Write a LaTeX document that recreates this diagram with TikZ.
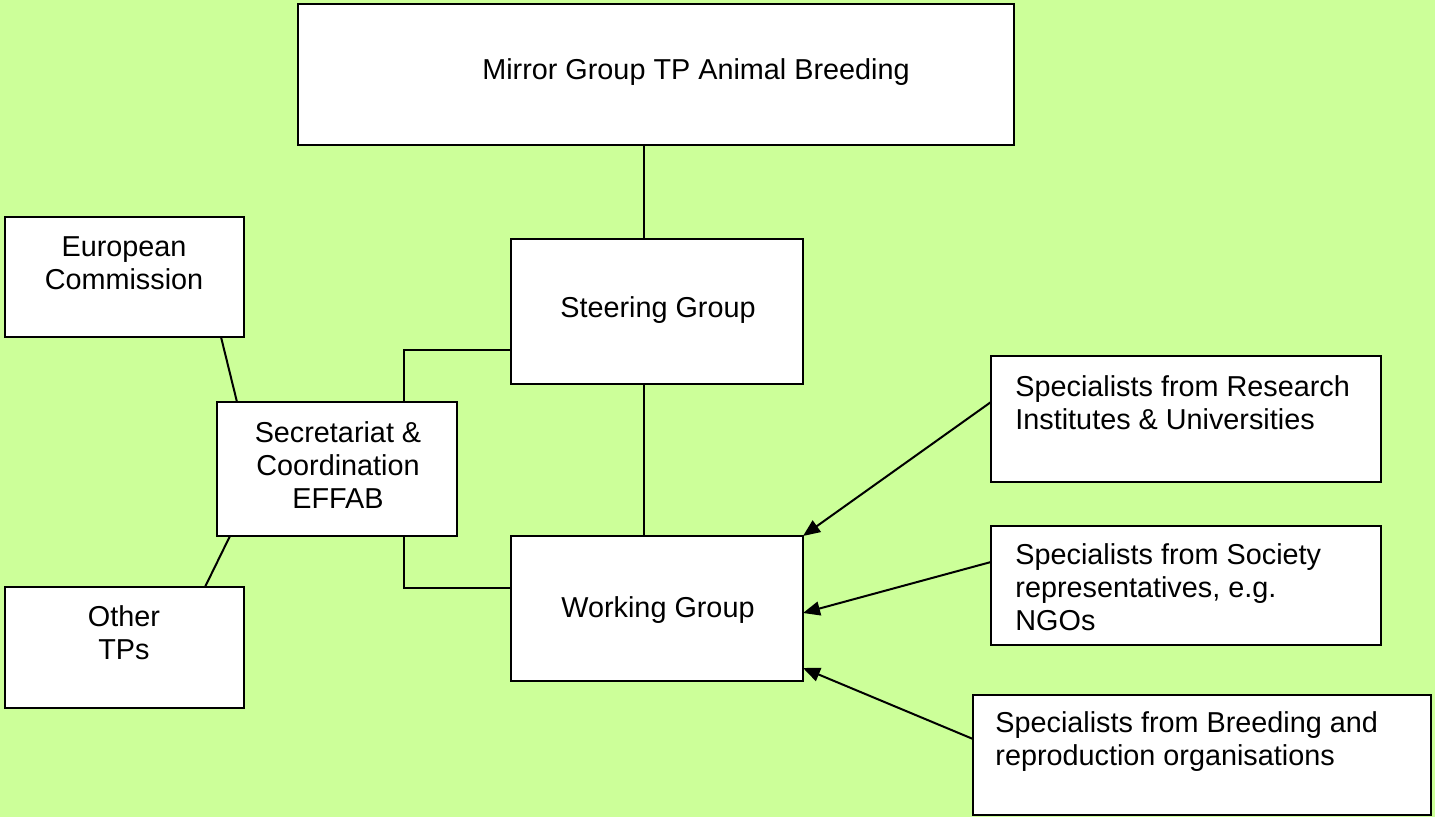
\documentclass[tikz,border=0pt]{standalone}
\usepackage{fontspec}
\setmainfont{Liberation Sans}
\usetikzlibrary{calc,arrows.meta}
\definecolor{bgGreen}{HTML}{CCFF99}

\begin{document}
\begin{tikzpicture}[x=0.5pt, y=-0.5pt,
    box/.style={draw=black, fill=white, line width=1.1pt, inner sep=0pt, outer sep=0pt, anchor=north west},
    txt/.style={inner sep=0pt, font=\fontsize{14.4}{16.5}\selectfont},
    link/.style={line width=1pt, black},
    feed/.style={line width=1pt, black, -{Triangle[length=8.5pt, width=7pt]}}]

    % Background
    \fill[bgGreen] (0,0) rectangle (1435,817);
    \useasboundingbox (0,0) rectangle (1435,817);

    % Boxes
    \node[box, minimum width=358pt, minimum height=70.5pt] (mirror) at (298,4) {};
    \node[box, minimum width=146pt, minimum height=72.5pt] (steer) at (511,239) {};
    \node[box, minimum width=146pt, minimum height=72.5pt] (work) at (511,536) {};
    \node[box, minimum width=119.5pt, minimum height=60pt] (ec) at (5,217) {};
    \node[box, minimum width=120pt, minimum height=67pt] (sec) at (217,402) {};
    \node[box, minimum width=119.5pt, minimum height=60.5pt] (other) at (5,587) {};
    \node[box, minimum width=195pt, minimum height=63pt] (res) at (991,356) {};
    \node[box, minimum width=195pt, minimum height=59.5pt] (soc) at (991,526) {};
    \node[box, minimum width=229pt, minimum height=60pt] (breed) at (973,695) {};

    % Texts
    \node[txt] (mirrorText) at (696,72) {Mirror Group TP Animal Breeding};
    \node[txt] (steerText) at (658,310) {Steering Group};
    \node[txt] (workText) at (658,610) {Working Group};
    \node[txt, align=center] (ecText) at (124,263) {European\\Commission};
    \node[txt, align=center] (secText) at (338,465) {Secretariat \&\\Coordination\\EFFAB};
    \node[txt, align=center] (otherText) at (124,633) {Other\\TPs};
    \node[txt, align=left, anchor=west] (resText) at (1015,403) {Specialists from Research\\Institutes \& Universities};
    \node[txt, align=left, anchor=west] (socText) at (1015,587) {Specialists from Society\\representatives, e.g.\\NGOs};
    \node[txt, align=left, anchor=west] (breedText) at (995,742) {Specialists from Breeding and\\reproduction organisations};

    % Knees of the lines
    \coordinate (spine) at (644,0);
    \coordinate (topArm) at (404,350);
    \coordinate (botArm) at (404,588);

    % Edges
    \draw[link] (mirror.south -| spine) -- (steer.north -| spine);
    \draw[link] (steer.south -| spine) -- (work.north -| spine);
    \draw[link] (steer.west |- topArm) -- (topArm) -- (sec.north -| topArm);
    \draw[link] (sec.south -| botArm) -- (botArm) -- (work.west |- botArm);
    \draw[link] ($(ec.south west)+(216,0)$) -- ($(sec.north west)+(20,0)$);
    \draw[link] ($(sec.south west)+(13,0)$) -- ($(other.north west)+(200,0)$);

    % Arrows into the working group
    \draw[feed] ($(res.north west)+(0,46)$) -- (work.north east);
    \draw[feed] ($(soc.north west)+(0,36)$) -- ($(work.north east)+(0,77)$);
    \draw[feed] ($(breed.north west)+(0,44)$) -- ($(work.north east)+(0,132)$);

\end{tikzpicture}
\end{document}
